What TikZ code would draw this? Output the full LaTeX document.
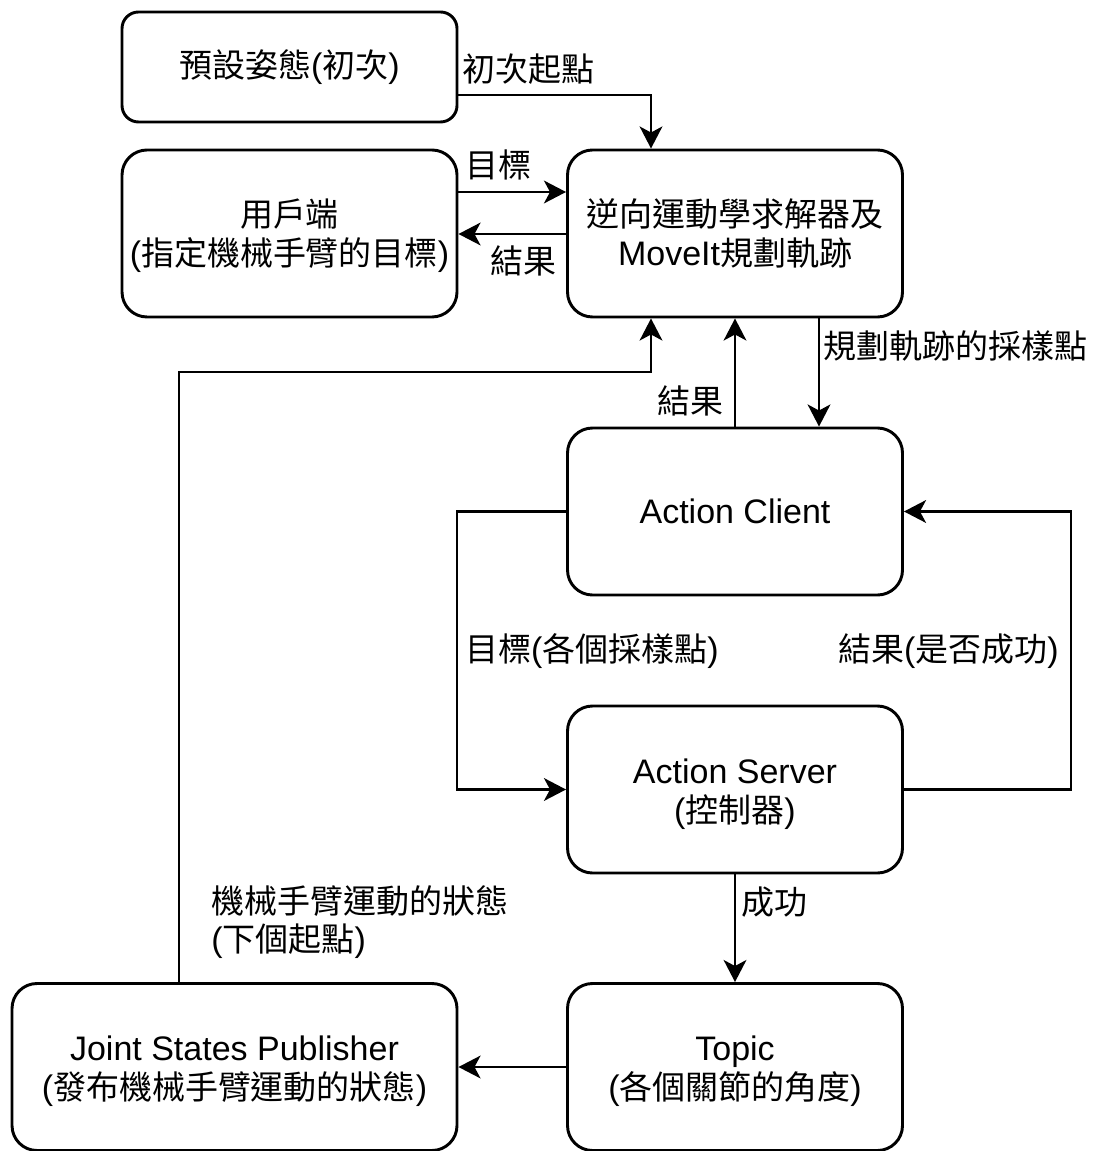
\documentclass[tikz,border=0pt]{standalone}
\usepackage{fontspec}
\setmainfont{Liberation Sans}
\newfontfamily\cjkfont{Noto Sans CJK TC}[Scale=0.97]
\newcommand\zh[1]{{\cjkfont #1}}
\usetikzlibrary{arrows.meta}

\tikzset{
  txt/.style={font=\fontsize{25.5pt}{30pt}\selectfont, inner sep=0pt, align=center},
  box/.style={txt, draw, line width=2.2pt, rounded corners=18.75pt,
              minimum width=251.25pt, minimum height=125.25pt},
  two/.style={font=\fontsize{25.5pt}{29.25pt}\selectfont, text height=48.75pt, text depth=0pt},
  lbl/.style={txt, align=left},
  arr/.style={line width=2.2pt, -{Stealth[length=16.5pt,width=17pt,inset=4.5pt]}},
}

\begin{document}
\begin{tikzpicture}[x=0.75pt,y=-0.75pt]
\useasboundingbox (0,0) rectangle (1097,1151);

% blocks
\node[box, minimum height=82.5pt, rounded corners=12.4pt] (b1) at (289.5,67) {\zh{預設姿態}(\zh{初次})};
\node[box, two] (b2) at (289.5,233.5) {\zh{用戶端}\\(\zh{指定機械手臂的目標})};
\node[box, two] (b3) at (735,233.5) {\zh{逆向運動學求解器及}\\MoveIt\zh{規劃軌跡}};
\node[box] (b4) at (735,511.5) {Action Client};
\node[box, two] (b5) at (735,789.5) {Action Server\\(\zh{控制器})};
\node[box, two] (b6) at (735,1067) {Topic\\(\zh{各個關節的角度})};
\node[box, two, minimum width=333.75pt] (b7) at (234.5,1067) {Joint States Publisher\\(\zh{發布機械手臂運動的狀態})};

% bend points
\coordinate (c1) at (651,95);
\coordinate (c2) at (819,317);
\coordinate (c3) at (179,372);
\coordinate (c4) at (651,372);
\coordinate (c5) at (457,650);
\coordinate (c6) at (1071,650);
\coordinate (g1) at (0,192);
\coordinate (g2) at (0,234);

% connectors
\draw[arr] (b1.east |- c1) -| (b3.north -| c1);
\draw[arr] (b2.east |- g1) -- (b3.west |- g1);
\draw[arr] (b3.west |- g2) -- (b2.east |- g2);
\draw[arr] (b3.south -| c2) -- (b4.north -| c2);
\draw[arr] (b4.north) -- (b3.south);
\draw[arr] (b7.north -| c3) |- (c4) -- (b3.south -| c4);
\draw[arr] (b4.west) -| (c5) |- (b5.west);
\draw[arr] (b5.east) -| (c6) |- (b4.east);
\draw[arr] (b5.south) -- (b6.north);
\draw[arr] (b6.west) -- (b7.east);

% labels
\node[lbl, anchor=west] (l1) at (462,69) {\zh{初次起點}};
\node[lbl, anchor=west] (l2) at (465,165) {\zh{目標}};
\node[lbl, anchor=west] (l3) at (490,261) {\zh{結果}};
\node[lbl, anchor=west] (l4) at (823,346) {\zh{規劃軌跡的採樣點}};
\node[lbl, anchor=west] (l5) at (657,401) {\zh{結果}};
\node[lbl, anchor=west] (l6) at (465,651) {\zh{目標}(\zh{各個採樣點})};
\node[lbl, anchor=west] (l7) at (838,651) {\zh{結果}(\zh{是否成功})};
\node[lbl, anchor=west] (l8) at (741,902) {\zh{成功}};
\node[lbl, anchor=west, font=\fontsize{25.5pt}{28.5pt}\selectfont] (l9) at (211,922) {\zh{機械手臂運動的狀態}\\(\zh{下個起點})};
\end{tikzpicture}
\end{document}
